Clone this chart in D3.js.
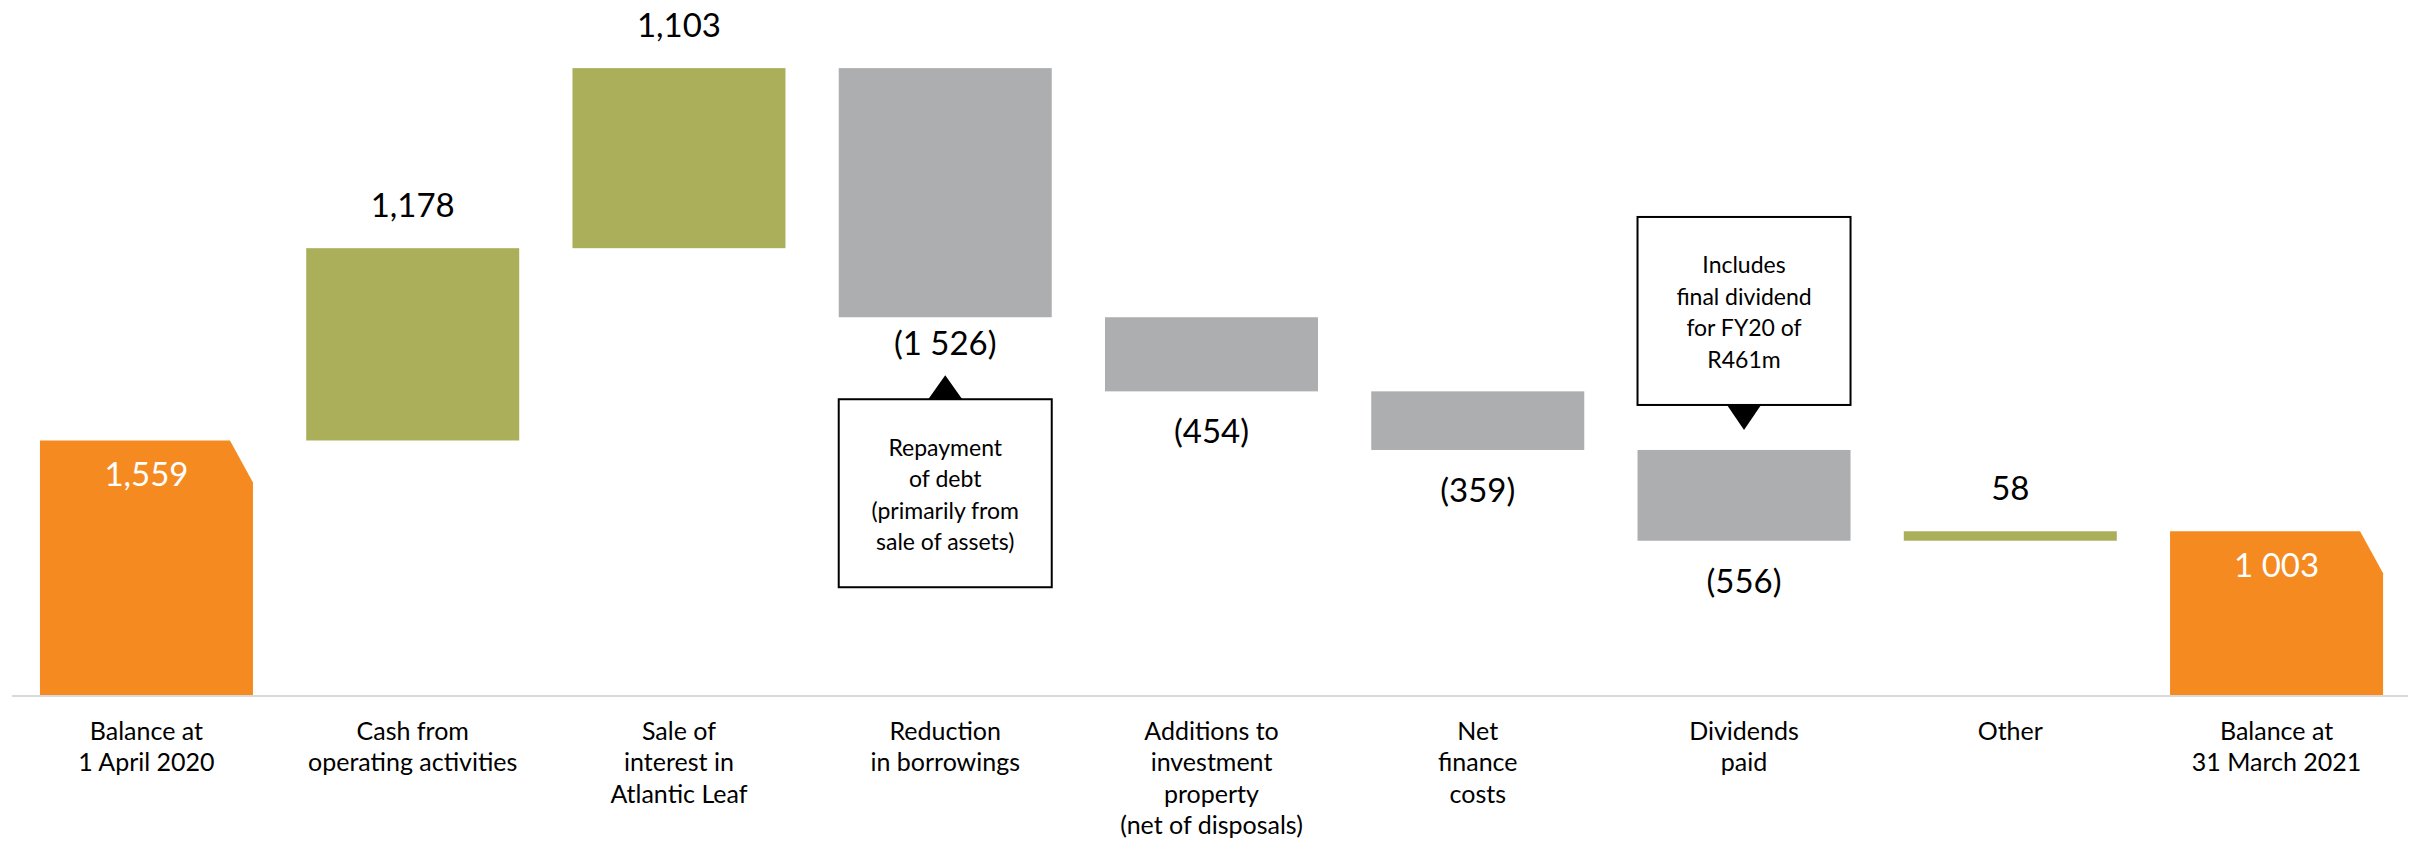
<!DOCTYPE html>
<html>
<head>
<meta charset="utf-8">
<script src="https://cdn.jsdelivr.net/npm/d3@7"></script>
<style>
  html, body { margin: 0; padding: 0; background: #ffffff; }
  svg { display: block; }
  text { font-family: Lato, "Open Sans", sans-serif; }
</style>
</head>
<body>
<svg id="chart" width="2415" height="842"></svg>
<script>
// ---- data ----
const categories = [
  ["Balance at", "1 April 2020"],
  ["Cash from", "operating activities"],
  ["Sale of", "interest in", "Atlantic Leaf"],
  ["Reduction", "in borrowings"],
  ["Additions to", "investment", "property", "(net of disposals)"],
  ["Net", "finance", "costs"],
  ["Dividends", "paid"],
  ["Other"],
  ["Balance at", "31 March 2021"]
];
const values = [1559, 1178, 1103, -1526, -454, -359, -556, 58, 1003];
const kinds = ["total", "increase", "increase", "decrease", "decrease", "decrease", "decrease", "increase", "total"];
const valueLabels = ["1,559", "1,178", "1,103", "(1 526)", "(454)", "(359)", "(556)", "58", "1 003"];
const noteRepayment = ["Repayment", "of debt", "(primarily from", "sale of assets)"];
const noteDividend = ["Includes", "final dividend", "for FY20 of", "R461m"];
const notes = [
  { index: 3, side: "below", lines: noteRepayment },
  { index: 6, side: "above", lines: noteDividend }
];
const colors = { total: "#F58A21", increase: "#ABAF5A", decrease: "#ADAEB0" };

// ---- waterfall computation ----
let running = 0;
const bars = values.map((v, i) => {
  let start, end;
  if (kinds[i] === "total") { start = 0; end = v; running = v; }
  else { start = running; end = running + v; running = end; }
  return { i, v, kind: kinds[i], start, end, lo: Math.min(start, end), hi: Math.max(start, end), label: valueLabels[i] };
});

// ---- scales ----
const svg = d3.select("#chart");
const x = d3.scaleBand().domain(d3.range(categories.length)).range([0, 2423]).paddingInner(0.2).paddingOuter(0.15);
const y = d3.scaleLinear().domain([0, 4000]).range([695, 42]);
const bw = x.bandwidth();

// ---- bars ----
const cutW = 23, cutH = 42;
const g = svg.append("g");
bars.forEach(b => {
  const x0 = x(b.i), x1 = x0 + bw, yt = y(b.hi), yb = y(b.lo);
  if (b.kind === "total") {
    const p = d3.path();
    p.moveTo(x0, yb); p.lineTo(x0, yt); p.lineTo(x1 - cutW, yt); p.lineTo(x1, yt + cutH); p.lineTo(x1, yb); p.closePath();
    g.append("path").attr("d", p.toString()).attr("fill", colors.total);
  } else {
    g.append("rect").attr("x", x0).attr("y", yt).attr("width", bw).attr("height", Math.max(1, yb - yt)).attr("fill", colors[b.kind]);
  }
});

// ---- baseline ----
svg.append("line").attr("x1", 12).attr("x2", 2408).attr("y1", y(0) + 1).attr("y2", y(0) + 1)
  .attr("stroke", "#D9D9D9").attr("stroke-width", 2);

// ---- value labels ----
const noteBelow = new Set(notes.filter(n => n.side === "below").map(n => n.index));
bars.forEach(b => {
  const cx = x(b.i) + bw / 2;
  let ty, fill = "#000";
  if (b.kind === "total") { ty = y(b.hi) + 34; fill = "#ffffff"; }
  else if (b.kind === "increase") { ty = y(b.hi) - 43; }
  else { ty = y(b.lo) + (noteBelow.has(b.i) ? 26 : 40); }
  svg.append("text").attr("x", cx).attr("y", ty).attr("dy", "0.36em")
    .attr("text-anchor", "middle").attr("font-size", 33).attr("fill", fill).text(b.label);
});

// ---- category labels ----
categories.forEach((lines, i) => {
  const t = svg.append("text").attr("text-anchor", "middle").attr("font-size", 25).attr("fill", "#000");
  lines.forEach((ln, k) => {
    t.append("tspan").attr("x", x(i) + bw / 2).attr("y", 740 + k * 31.3).text(ln);
  });
});

// ---- callout notes ----
const lineH = 31.5;
notes.forEach(n => {
  const b = bars[n.index];
  const x0 = x(n.index), cx = x0 + bw / 2;
  const h = n.lines.length * lineH + 62;
  let top, triPts;
  if (n.side === "below") {
    top = y(b.lo) + 82;
    triPts = [[cx - 17, top], [cx + 17, top], [cx, top - 24]];
  } else {
    top = y(b.hi) - 45 - h;
    const bot = top + h;
    triPts = [[cx - 17, bot], [cx + 17, bot], [cx, bot + 25]];
  }
  svg.append("rect").attr("x", x0).attr("y", top).attr("width", bw).attr("height", h)
    .attr("fill", "#fff").attr("stroke", "#000").attr("stroke-width", 2);
  svg.append("polygon").attr("points", triPts.map(p => p.join(",")).join(" ")).attr("fill", "#000");
  const t = svg.append("text").attr("text-anchor", "middle").attr("font-size", 23).attr("fill", "#000");
  n.lines.forEach((ln, k) => {
    t.append("tspan").attr("x", cx).attr("y", top + 48 + k * lineH).attr("dy", "0.36em").text(ln);
  });
});
</script>
</body>
</html>
